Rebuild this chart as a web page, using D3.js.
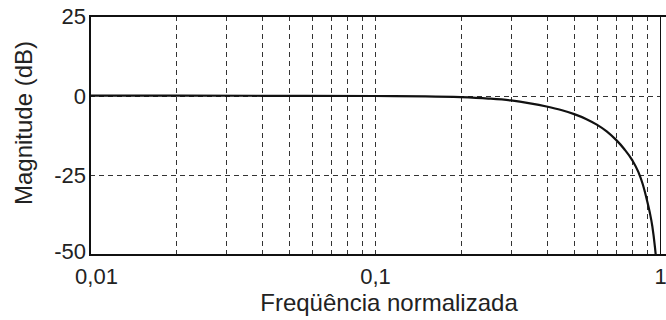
<!DOCTYPE html>
<html>
<head>
<meta charset="utf-8">
<script src="https://cdn.jsdelivr.net/npm/d3@7"></script>
<style>
  html, body { margin: 0; padding: 0; background: #fff; }
  svg { display: block; font-family: "Liberation Sans", Arial, Helvetica, sans-serif; }
</style>
</head>
<body>
<svg id="chart" width="666" height="320"></svg>
<script>
// Normalized frequency samples and magnitude response (dB)
const freqs = [0.01, 0.02, 0.05, 0.1, 0.15, 0.2, 0.25, 0.3, 0.35, 0.4, 0.45, 0.5, 0.55, 0.6, 0.65, 0.7, 0.75, 0.8, 0.84, 0.87, 0.9, 0.92, 0.94, 0.96, 0.97];
const magnitudes = [0, 0, -0.05, -0.1, -0.2, -0.45, -0.9, -1.5, -2.4, -3.4, -4.5, -5.8, -7.3, -9.1, -11.2, -13.8, -16.8, -20.3, -24.0, -27.8, -32.8, -36.5, -41.0, -47.5, -51.5];

// Axis ticks and labels
const xTicks = [0.01, 0.1, 1];
const xTickLabels = ["0,01", "0,1", "1"];
const yTicks = [25, 0, -25, -50];
const yTickLabels = ["25", "0", "-25", "-50"];

// Grid positions
const xGrid = [0.02, 0.03, 0.04, 0.05, 0.06, 0.07, 0.08, 0.09, 0.1, 0.2, 0.3, 0.4, 0.5, 0.6, 0.7, 0.8, 0.9];
const yGrid = [0, -25];

const xTitle = "Freqüência normalizada";
const yTitle = "Magnitude (dB)";

const svg = d3.select("#chart");
const plotLeft = 90, plotRight = 660, plotTop = 16, plotBottom = 255;

const x = d3.scaleLog().domain([0.01, 1]).range([plotLeft, plotRight]);
const y = d3.scaleLinear().domain([-50, 25]).range([plotBottom, plotTop]);

// Dashed grid
const grid = svg.append("g")
  .attr("stroke", "#333")
  .attr("stroke-width", 1)
  .attr("stroke-dasharray", "5,4")
  .attr("shape-rendering", "crispEdges");
grid.selectAll("line.v").data(xGrid).join("line")
  .attr("class", "v")
  .attr("x1", d => Math.round(x(d)) + 0.5).attr("x2", d => Math.round(x(d)) + 0.5)
  .attr("y1", plotTop).attr("y2", plotBottom);
grid.selectAll("line.h").data(yGrid).join("line")
  .attr("class", "h")
  .attr("x1", plotLeft).attr("x2", plotRight)
  .attr("y1", d => Math.round(y(d)) + 0.5).attr("y2", d => Math.round(y(d)) + 0.5);

// Response curve, clipped to the plot area
svg.append("clipPath").attr("id", "plot-clip")
  .append("rect").attr("x", plotLeft).attr("y", plotTop)
  .attr("width", plotRight - plotLeft).attr("height", plotBottom - plotTop);

const pts = freqs.map((f, i) => [f, magnitudes[i]]);
const line = d3.line()
  .x(d => x(d[0]))
  .y(d => y(d[1]))
  .curve(d3.curveMonotoneX);

svg.append("path")
  .attr("d", line(pts))
  .attr("clip-path", "url(#plot-clip)")
  .attr("fill", "none")
  .attr("stroke", "#111")
  .attr("stroke-width", 2.2);

// Frame
const frame = svg.append("g").attr("stroke", "#111").attr("shape-rendering", "crispEdges");
frame.append("line").attr("x1", plotLeft).attr("x2", plotRight + 6).attr("y1", plotTop).attr("y2", plotTop).attr("stroke-width", 2);
frame.append("line").attr("x1", plotLeft).attr("x2", plotRight + 6).attr("y1", plotBottom).attr("y2", plotBottom).attr("stroke-width", 2);
frame.append("line").attr("x1", plotLeft).attr("x2", plotLeft).attr("y1", plotTop - 1).attr("y2", plotBottom + 1).attr("stroke-width", 2);
frame.append("line").attr("x1", plotRight).attr("x2", plotRight).attr("y1", plotTop).attr("y2", plotBottom).attr("stroke-width", 1);

// Axes (labels only)
const xAxis = d3.axisBottom(x)
  .tickValues(xTicks)
  .tickFormat((d, i) => xTickLabels[i])
  .tickSize(0)
  .tickPadding(13);
const gx = svg.append("g").attr("transform", `translate(0,${plotBottom})`).call(xAxis);
gx.select(".domain").remove();
gx.selectAll("text")
  .attr("font-size", 22)
  .attr("font-family", "Liberation Sans, Arial, sans-serif")
  .attr("fill", "#222")
  .attr("dx", (d, i) => i === 0 ? 6 : 0);

const yAxis = d3.axisLeft(y)
  .tickValues(yTicks)
  .tickFormat((d, i) => yTickLabels[i])
  .tickSize(0)
  .tickPadding(4);
const gy = svg.append("g").attr("transform", `translate(${plotLeft},0)`).call(yAxis);
gy.select(".domain").remove();
gy.selectAll("text")
  .attr("font-size", 22)
  .attr("font-family", "Liberation Sans, Arial, sans-serif")
  .attr("fill", "#222")
  .attr("dy", d => d === -50 ? "0.14em" : "0.34em");

// Titles
svg.append("text")
  .attr("x", 389).attr("y", 311)
  .attr("text-anchor", "middle")
  .attr("font-size", 24)
  .attr("fill", "#222")
  .text(xTitle);

svg.append("text")
  .attr("transform", "translate(32,123) rotate(-90)")
  .attr("text-anchor", "middle")
  .attr("font-size", 24)
  .attr("fill", "#222")
  .text(yTitle);
</script>
</body>
</html>
